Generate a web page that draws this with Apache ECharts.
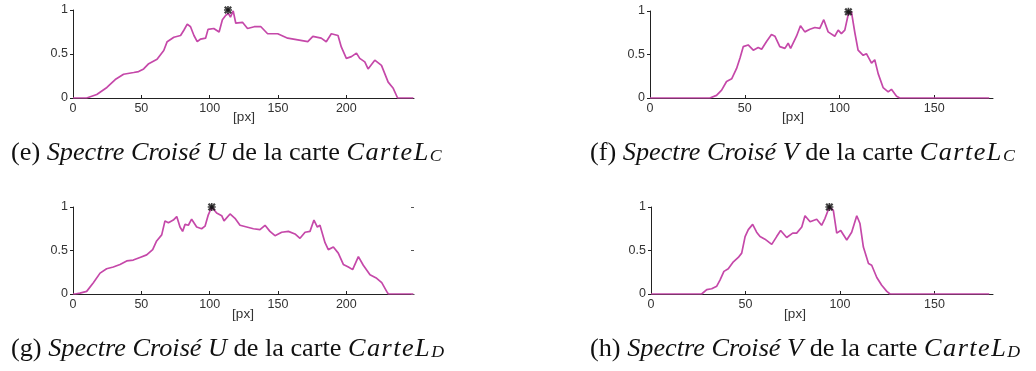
<!DOCTYPE html>
<html>
<head>
<meta charset="utf-8">
<script src="https://cdn.jsdelivr.net/npm/echarts@6/dist/echarts.min.js"></script>
<style>
  html, body { margin: 0; padding: 0; background: #fff; }
  #chart { width: 1036px; height: 371px; }
</style>
</head>
<body>
<div id="chart"></div>
<script>
// (e) cross spectrum U, map L_C
const eX = [0, 10, 17.4, 24.8, 30.9, 37, 44.4, 48, 51.7, 55.4, 61.5, 66.4, 68.9, 73.8, 78.7, 81.1, 83.6, 86, 88.5, 90.9, 93.4, 97, 98.8, 103, 106.9, 109.3, 111.8, 113.7, 115.2, 117.2, 119.1, 120.3, 124, 127.7, 132.6, 137.5, 142.4, 149.8, 157.1, 164.5, 171.8, 175.5, 181.6, 185.3, 189, 193.9, 196.3, 200, 203.7, 207.4, 209.8, 213.5, 215.9, 220.8, 225.7, 230.6, 234.3, 237.5, 249];
const eY = [0, 0, 0.04, 0.12, 0.21, 0.27, 0.29, 0.30, 0.33, 0.39, 0.44, 0.54, 0.64, 0.69, 0.71, 0.77, 0.84, 0.81, 0.71, 0.64, 0.67, 0.68, 0.78, 0.79, 0.75, 0.89, 0.94, 0.96, 0.92, 0.99, 0.85, 0.83, 0.86, 0.79, 0.81, 0.81, 0.73, 0.73, 0.68, 0.66, 0.64, 0.70, 0.68, 0.64, 0.73, 0.71, 0.58, 0.45, 0.47, 0.51, 0.45, 0.41, 0.33, 0.43, 0.37, 0.18, 0.11, 0, 0];
const ePeak = [113.4, 1.0];

// (f) cross spectrum V, map L_C
const fX = [0, 31.6, 35.1, 37.8, 40.4, 43.1, 45.7, 47.5, 49.2, 51.8, 54.5, 57.1, 58.9, 61.5, 64.1, 65.9, 68.5, 71.2, 72.9, 74.2, 77.3, 79.4, 81.7, 84.4, 87, 89.6, 91.7, 94, 97.5, 99.3, 101, 102.8, 104.6, 106.3, 108.1, 109.8, 112.5, 114.2, 116.9, 118.6, 120.4, 123, 125.7, 127.4, 130.1, 131.8, 179];
const fY = [0, 0, 0.03, 0.09, 0.19, 0.22, 0.34, 0.46, 0.59, 0.61, 0.55, 0.58, 0.56, 0.65, 0.73, 0.71, 0.59, 0.57, 0.63, 0.57, 0.71, 0.83, 0.76, 0.79, 0.81, 0.80, 0.90, 0.76, 0.71, 0.78, 0.74, 0.78, 0.96, 0.99, 0.75, 0.55, 0.49, 0.51, 0.40, 0.44, 0.28, 0.12, 0.07, 0.10, 0.02, 0, 0];
const fPeak = [104.7, 0.99];

// (g) cross spectrum U, map L_D
const gX = [0, 1.5, 5.1, 10, 14.9, 19.8, 24.6, 29.5, 34.4, 39.3, 44.1, 49, 53.9, 58.3, 61.2, 64.9, 67.3, 69.8, 73.4, 75.9, 78.3, 80.2, 82, 84.4, 86.8, 90.5, 94.1, 96.6, 99, 101.5, 105.1, 108.8, 110.5, 114.9, 118.5, 122.2, 127.1, 132, 136.8, 140.5, 144.1, 147.8, 152.7, 157.6, 162.4, 166.1, 169.8, 173.4, 176.3, 178.8, 180.7, 184.4, 186.8, 190.5, 194.1, 197.8, 201.5, 204.6, 208.8, 212.4, 217.3, 222.2, 225.9, 229.5, 230.7, 249];
const gY = [0, 0, 0.01, 0.03, 0.13, 0.24, 0.29, 0.31, 0.34, 0.38, 0.39, 0.42, 0.45, 0.51, 0.61, 0.68, 0.84, 0.82, 0.85, 0.89, 0.77, 0.72, 0.80, 0.79, 0.86, 0.77, 0.75, 0.78, 0.91, 1.0, 0.93, 0.90, 0.84, 0.92, 0.87, 0.79, 0.77, 0.75, 0.74, 0.79, 0.72, 0.67, 0.71, 0.72, 0.69, 0.64, 0.71, 0.72, 0.85, 0.77, 0.79, 0.59, 0.51, 0.54, 0.47, 0.34, 0.31, 0.28, 0.43, 0.33, 0.22, 0.18, 0.13, 0.03, 0, 0];
const gPeak = [101.5, 1.0];

// (h) cross spectrum V, map L_D
const hX = [0, 26.8, 29.5, 32.1, 34.8, 36.5, 38.6, 40.9, 43.6, 46.2, 48, 49.8, 51.5, 53.8, 55.9, 57.7, 60.3, 63.9, 66.5, 68.6, 71.8, 75, 77.1, 79.8, 81.5, 84.2, 87.7, 90.3, 92.1, 94.4, 96.5, 98.3, 100.4, 103.6, 106.2, 108.9, 110.6, 112.4, 115.1, 116.8, 119.5, 122.1, 124.8, 126.5, 179];
const hY = [0, 0, 0.05, 0.06, 0.09, 0.16, 0.26, 0.29, 0.37, 0.42, 0.47, 0.66, 0.74, 0.80, 0.71, 0.66, 0.63, 0.57, 0.66, 0.73, 0.65, 0.70, 0.70, 0.77, 0.90, 0.83, 0.86, 0.79, 0.87, 1.0, 0.96, 0.70, 0.73, 0.62, 0.71, 0.90, 0.81, 0.54, 0.35, 0.33, 0.19, 0.10, 0.03, 0, 0];
const hPeak = [94.4, 1.0];

const yTicks = ['0', '0.5', '1'];
const captions = [
  ['(e) ', 'Spectre Croisé U', 'C'],
  ['(f) ', 'Spectre Croisé V', 'C'],
  ['(g) ', 'Spectre Croisé U', 'D'],
  ['(h) ', 'Spectre Croisé V', 'D']
];

const lineColor = '#c548a9';
const axisColor = '#222';
const labelFont = { color: '#333', fontSize: 12.5, fontFamily: 'Liberation Sans' };

const grids = [
  { left: 73, top: 10, width: 341, height: 88, xMax: 249.5, px: [244, 117], cap: [11, 153] },
  { left: 650, top: 11, width: 343, height: 87, xMax: 181, px: [793, 117], cap: [590, 153] },
  { left: 73, top: 207, width: 341, height: 87, xMax: 249.5, px: [243, 314], cap: [11, 349] },
  { left: 651, top: 207, width: 342, height: 87, xMax: 181, px: [795, 314], cap: [590, 349] }
];

const curves = [[eX, eY], [fX, fY], [gX, gY], [hX, hY]];
const peaks = [ePeak, fPeak, gPeak, hPeak];

const chart = echarts.init(document.getElementById('chart'), null, { renderer: 'canvas' });

const xAxis = grids.map((g, i) => ({
  type: 'value', gridIndex: i, min: 0, max: g.xMax, interval: 50,
  axisLine: { lineStyle: { color: axisColor, width: 1 } },
  axisTick: { show: true, length: 3, inside: true, lineStyle: { color: axisColor } },
  axisLabel: Object.assign({ margin: 4, showMaxLabel: false }, labelFont),
  splitLine: { show: false }
}));

const yAxis = grids.map((g, i) => ({
  type: 'value', gridIndex: i, min: 0, max: 1, interval: 0.5,
  axisLine: { show: true, lineStyle: { color: axisColor, width: 1 } },
  axisTick: { show: true, length: 3, lineStyle: { color: axisColor } },
  axisLabel: Object.assign({ margin: 5, formatter: v => yTicks[Math.round(v * 2)] }, labelFont),
  splitLine: { show: false }
}));
// stray right-hand ticks in (g)
yAxis.push({
  type: 'value', gridIndex: 2, position: 'right', min: 0, max: 1, interval: 0.5,
  axisLine: { show: false },
  axisTick: { show: true, inside: true, length: 3, lineStyle: { color: '#555' } },
  axisLabel: { show: false }, splitLine: { show: false }
});

const series = [];
curves.forEach((c, i) => {
  series.push({
    type: 'line', xAxisIndex: i, yAxisIndex: i, showSymbol: false,
    data: c[0].map((x, k) => [x, c[1][k]]),
    lineStyle: { color: lineColor, width: 1.7 },
    animation: false
  });
  series.push({
    type: 'scatter', xAxisIndex: i, yAxisIndex: i,
    data: [peaks[i]],
    symbol: 'path://M0,2 L2,0 L5,3 L8,0 L10,2 L7,5 L10,8 L8,10 L5,7 L2,10 L0,8 L3,5 Z',
    symbolSize: 8,
    itemStyle: { color: '#111' },
    z: 5, animation: false
  });
  series.push({
    type: 'scatter', xAxisIndex: i, yAxisIndex: i,
    data: [peaks[i]],
    symbol: 'path://M4,0 L6,0 L6,4 L10,4 L10,6 L6,6 L6,10 L4,10 L4,6 L0,6 L0,4 L4,4 Z',
    symbolSize: 8,
    itemStyle: { color: '#111' },
    z: 5, animation: false
  });
});

// math italic "CarteL", letters spaced a little like TeX math
const mathWord = 'CarteL'.split('').map(ch => '{m|' + ch + '}').join('');

const serif = 'Liberation Serif';
const graphic = [];
grids.forEach((g, i) => {
  graphic.push({
    type: 'text', x: g.px[0], y: g.px[1],
    style: { text: '[px]', fill: '#333', font: '13.5px "Liberation Sans"', align: 'center', verticalAlign: 'middle' }
  });
  const c = captions[i];
  graphic.push({
    type: 'text', x: g.cap[0], y: g.cap[1], scaleX: 1.05,
    style: {
      text: '{r|' + c[0] + '}{i|' + c[1] + '}{r| de la carte }' + mathWord + '{s|' + c[2] + '}',
      verticalAlign: 'middle',
      rich: {
        r: { fontFamily: serif, fontSize: 25, fill: '#111', lineHeight: 25, verticalAlign: 'middle' },
        i: { fontFamily: serif, fontStyle: 'italic', fontSize: 25, fill: '#111', lineHeight: 25, verticalAlign: 'middle' },
        m: { fontFamily: serif, fontStyle: 'italic', fontSize: 25, fill: '#111', lineHeight: 25, verticalAlign: 'middle', padding: [0, 1.4, 0, 0] },
        s: { fontFamily: serif, fontStyle: 'italic', fontSize: 17, fill: '#111', lineHeight: 17, padding: [16, 0, 0, 0], verticalAlign: 'bottom' }
      }
    }
  });
});

chart.setOption({
  animation: false,
  backgroundColor: '#fff',
  grid: grids.map(g => ({ left: g.left, top: g.top, width: g.width, height: g.height })),
  xAxis: xAxis,
  yAxis: yAxis,
  series: series,
  graphic: graphic
});
</script>
</body>
</html>
